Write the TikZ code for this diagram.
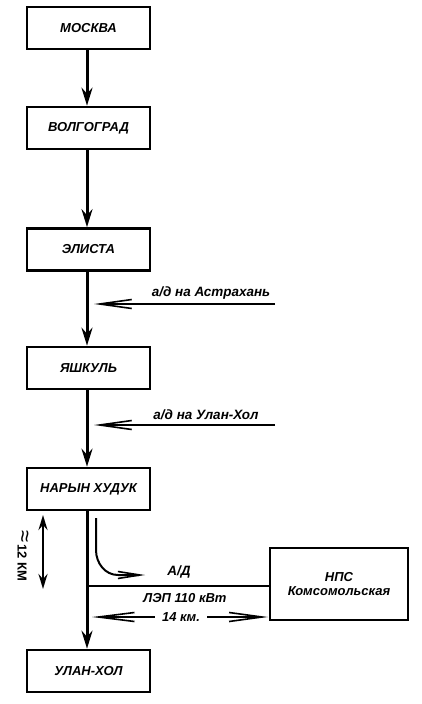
\documentclass[tikz,border=0pt]{standalone}
\usepackage{fontspec}
\setmainfont{Liberation Sans}
\usetikzlibrary{arrows.meta}
\begin{document}
\begin{tikzpicture}[x=1pt,y=-1pt,
  box/.style={draw,line width=2.6pt,minimum width=123pt,minimum height=42pt,inner sep=0pt,font=\fontsize{13}{15}\selectfont\bfseries\itshape},
  mainline/.style={line width=3pt,-{Stealth[length=18pt,width=11pt,inset=6pt]}},
  sidearrow/.style={line width=2pt,-{Straight Barb[length=32pt,width=9pt,line width=1.6pt]}},
  lbl/.style={font=\fontsize{13.5}{15}\selectfont\bfseries\itshape,inner sep=0pt}]
\useasboundingbox[fill=white] (0,0) rectangle (422,704);
\node[box] (msk) at (88.5,28) {МОСКВА};
\node[box] (vlg) at (88.5,128) {ВОЛГОГРАД};
\node[box] (els) at (88.5,249.5) {ЭЛИСТА};
\node[box] (yas) at (88.5,368) {ЯШКУЛЬ};
\node[box] (nar) at (88.5,489) {НАРЫН ХУДУК};
\node[box] (ulh) at (88.5,671) {УЛАН-ХОЛ};
\node[draw,line width=2.6pt,minimum width=138pt,minimum height=72pt,inner sep=0pt,align=center,font=\fontsize{13}{14}\selectfont\bfseries\itshape] (nps) at (339,584) {НПС\\Комсомольская};
\coordinate (m) at (87,0);
\draw[mainline] (msk.south -| m) -- (vlg.north -| m);
\draw[mainline] (vlg.south -| m) -- (els.north -| m);
\draw[mainline] (els.south -| m) -- (yas.north -| m);
\draw[mainline] (yas.south -| m) -- (nar.north -| m);
\draw[mainline] (nar.south -| m) -- (ulh.north -| m);
% side roads
\coordinate (a1) at (275,304);
\coordinate (a1t) at (94,304);
\draw[sidearrow] (a1) -- (a1t);
\node[lbl,anchor=south] (t1) at (211,299) {а/д на Астрахань};
\coordinate (a2) at (275,425);
\coordinate (a2t) at (94,425);
\draw[sidearrow] (a2) -- (a2t);
\node[lbl,anchor=south] (t2) at (206,420) {а/д на Улан-Хол};
% connection to NPS
\coordinate (j) at (87,586);
\draw[line width=2pt] (j) -- (j -| nps.west);
\coordinate (c0) at (96,518);
\coordinate (c1) at (145,575);
\draw[line width=2pt,-{Straight Barb[length=22pt,width=7pt,line width=1.6pt]}] (c0) -- (96,550) to[out=-90,in=180] (118,575) -- (c1);
\node[lbl] (ad) at (179,572) {А/Д};
\node[lbl,font=\fontsize{13}{14}\selectfont\bfseries\itshape] (lep) at (185,598) {ЛЭП 110 кВт};
\coordinate (l1) at (92,617);
\coordinate (l2) at (268,617);
\node[lbl,fill=white,inner xsep=7pt,font=\fontsize{13}{14}\selectfont\bfseries\itshape] (km) at (181,617) {14 км.};
\draw[sidearrow,-{Straight Barb[length=36pt,width=9pt,line width=1.6pt]}] (km.west) -- (l1);
\draw[sidearrow,-{Straight Barb[length=33pt,width=9pt,line width=1.6pt]}] (km.east) -- (l2);
% 12 km
\coordinate (k1) at (43,515);
\coordinate (k2) at (43,589);
\draw[line width=2.4pt,{Stealth[length=15pt,width=9pt,inset=5pt]}-{Stealth[length=15pt,width=9pt,inset=5pt]}] (k1) -- (k2);
\node[lbl,rotate=-90,font=\fontsize{13}{14}\selectfont\bfseries] (km12) at (23,556) {{\fontsize{22}{22}\selectfont\mdseries≈}\,12 КМ};
\end{tikzpicture}
\end{document}
